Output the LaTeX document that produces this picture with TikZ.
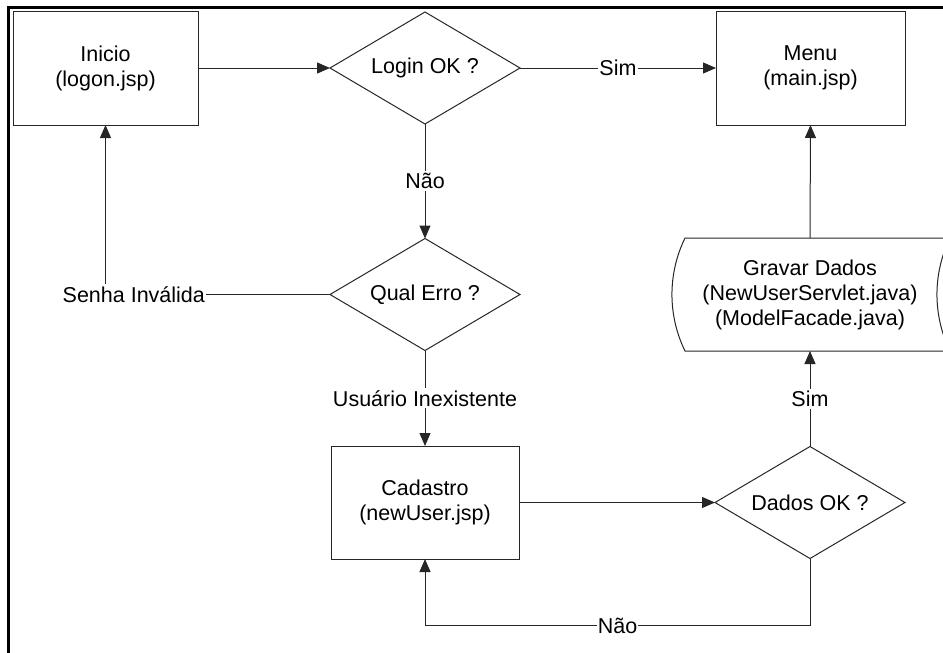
\documentclass[tikz,border=0pt]{standalone}
\usepackage{fontspec}
\setmainfont{Liberation Sans}
\usetikzlibrary{arrows.meta,shapes.geometric}

\begin{document}
\begin{tikzpicture}[x=1pt,y=-1pt,
  every node/.style={font=\fontsize{21.5}{25}\selectfont, align=center, inner sep=0pt, outer sep=0pt},
  edge/.style={draw=black!85, line width=1pt},
  box/.style={edge, rectangle, minimum width=188pt, minimum height=114pt},
  decision/.style={edge, diamond, aspect=1.7, minimum width=190pt, minimum height=112pt},
  arr/.style={edge, -{Triangle[length=13pt,width=11pt]}},
  lbl/.style={fill=white, inner xsep=1pt, inner ysep=2pt}]

\useasboundingbox (0,0) rectangle (943,653);
\clip (0,0) rectangle (943,653);

% page frame (top and left edges)
\draw[line width=3pt] (8.5,653) -- (8.5,7.5) -- (943,7.5);

% process steps and decisions
\node[box, minimum width=185pt] (ini) at (105.5,68) {Inicio\\(logon.jsp)};
\node[decision] (login) at (425,68) {Login OK ?};
\node[box, minimum width=189pt] (menu) at (810.5,68) {Menu\\(main.jsp)};
\node[decision] (qe) at (425,294.5) {Qual Erro ?};
\node[box, minimum height=113pt] (cad) at (425,502.5) {Cadastro\\(newUser.jsp)};
\node[decision] (dok) at (810,502.5) {Dados OK ?};
\node[minimum width=250pt, minimum height=113pt] (gd) at (810,294.5)
  {Gravar Dados\\(NewUserServlet.java)\\(ModelFacade.java)};

% stored-data outline of the save step
\draw[edge] (gd.north west) -- ([xshift=15pt]gd.north east)
  .. controls ([shift={(-2.4,35.7)}]gd.north east) and ([shift={(-2.4,-35.7)}]gd.south east)
  .. ([xshift=15pt]gd.south east) -- (gd.south west)
  .. controls ([shift={(-17.4,-35.7)}]gd.south west) and ([shift={(-17.4,35.7)}]gd.north west)
  .. (gd.north west) -- cycle;

% connectors
\draw[arr] (ini.east) -- (login.west);
\draw[arr] (login.east) -- node[lbl] {Sim} (menu.west);
\draw[arr] (login.south) -- node[lbl] {Não} (qe.north);
\draw[arr] (qe.west) -| node[lbl, pos=0.437] {Senha Inválida} (ini.south);
\draw[arr] (qe.south) -- node[lbl] {Usuário Inexistente} (cad.north);
\draw[arr] (cad.east) -- (dok.west);
\draw[arr] (dok.north) -- node[lbl] {Sim} (gd.south);
\draw[arr] (gd.north) -- (menu.south);

\coordinate (nb) at (617.5,625.5);
\draw[arr] (dok.south) |- (nb) -| (cad.south);
\node[lbl] at (nb) {Não};
\end{tikzpicture}
\end{document}
